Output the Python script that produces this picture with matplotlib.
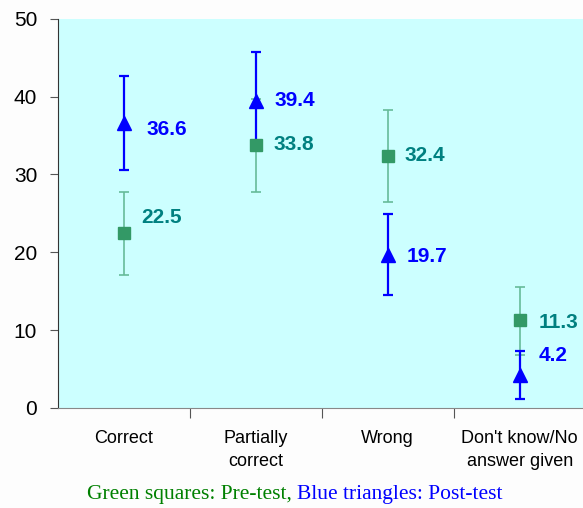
import numpy as np
import matplotlib.pyplot as plt

categories = ["Correct", "Partially\ncorrect", "Wrong", "Don't know/No\nanswer given"]
pre_test = [22.5, 33.8, 32.4, 11.3]
pre_err_low = [5.4, 6.0, 5.9, 4.5]
pre_err_high = [5.3, 5.9, 5.9, 4.2]
post_test = [36.6, 39.4, 19.7, 4.2]
post_err_low = [6.0, 5.6, 5.2, 3.1]
post_err_high = [6.1, 6.3, 5.2, 3.1]

# label nudges (x, y) so the numbers don't collide
pre_nudge = [(0.13, 2.0), (0.13, 0.0), (0.13, 0.0), (0.145, -0.3)]
post_nudge = [(0.17, -0.8), (0.14, 0.1), (0.145, -0.3), (0.145, 2.5)]

plt.rcParams['font.family'] = ['Liberation Sans', 'DejaVu Sans']

fig = plt.figure(figsize=(5.83, 5.08), dpi=100, facecolor="#fdfdfd")
ax = fig.add_axes([0.0995, 0.197, 0.905, 0.766])
ax.set_facecolor("#ccffff")

x = np.arange(1, len(categories) + 1)

# error bars first, markers on top
ax.errorbar(x, pre_test, yerr=[pre_err_low, pre_err_high], fmt="none",
            ecolor="#66bb99", elinewidth=1.2, capsize=3.5, capthick=1.2, zorder=2)
ax.errorbar(x, post_test, yerr=[post_err_low, post_err_high], fmt="none",
            ecolor="#0000ff", elinewidth=1.6, capsize=3.5, capthick=1.6, zorder=3)
ax.plot(x, pre_test, "s", color="#339966", ms=9, ls="none", zorder=4)
ax.plot(x, post_test, "^", color="#0000ff", ms=10.5, ls="none", zorder=5)

for xi, v, (dx, dy) in zip(x, pre_test, pre_nudge):
    ax.text(xi + dx, v + dy, f"{v:.1f}", color="#008080", fontsize=15,
            fontweight="bold", va="center")
for xi, v, (dx, dy) in zip(x, post_test, post_nudge):
    ax.text(xi + dx, v + dy, f"{v:.1f}", color="#0000ff", fontsize=15,
            fontweight="bold", va="center")

ax.set_xlim(0.5, 4.5)
ax.set_ylim(0, 50)
ax.set_yticks([0, 10, 20, 30, 40, 50])
ax.set_xticks([1.5, 2.5, 3.5])
ax.set_xticklabels([])
ax.tick_params(axis="x", length=7, color="#555555", direction="out")
ax.tick_params(axis="y", length=6, color="#555555", labelsize=15, pad=9)

for xi, name in zip(x, categories):
    ax.text(xi, -2.8, name, ha="center", va="top", fontsize=13, linespacing=1.45)

for side in ["top", "right"]:
    ax.spines[side].set_visible(False)
ax.spines["left"].set_color("#333333")
ax.spines["bottom"].set_color("#888888")

t1 = fig.text(0.149, 0.018, "Green squares: Pre-test, ", color="#008000", fontsize=15.5,
              family="Liberation Serif", va="baseline")
fig.canvas.draw()
ax.annotate("Blue triangles: Post-test", xy=(1, 0), xycoords=t1, color="#0000ff",
            fontsize=15.5, family="Liberation Serif", va="bottom", annotation_clip=False)

fig.savefig("out.png", dpi=100, facecolor=fig.get_facecolor())
